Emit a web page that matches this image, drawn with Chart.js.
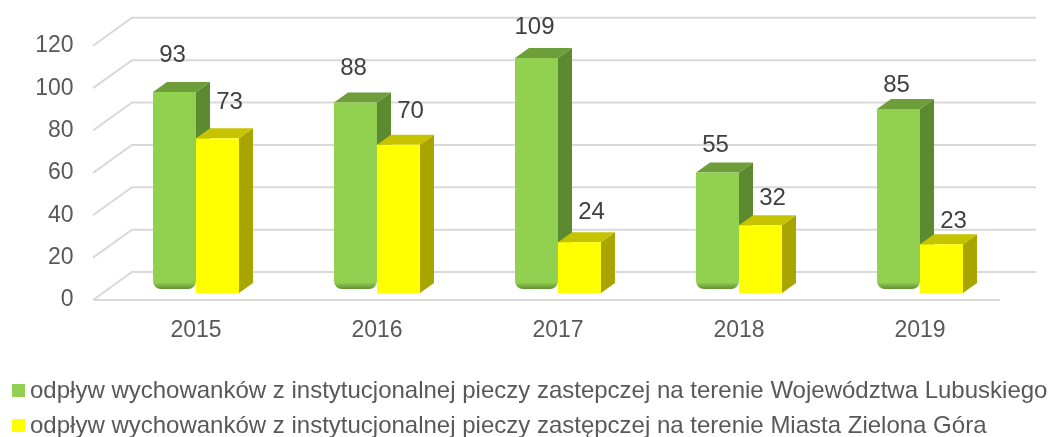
<!DOCTYPE html>
<html lang="pl">
<head>
  <meta charset="UTF-8" />
  <title>Odpływ wychowanków z instytucjonalnej pieczy zastępczej</title>
  <script src="https://cdn.jsdelivr.net/npm/chart.js@4.4.3/dist/chart.umd.min.js"></script>
  <style>
    body {
      margin: 0;
      background: #ffffff;
      font-family: "Liberation Sans", Arial, sans-serif;
    }
    .wrap {
      position: relative;
      width: 1048px;
      height: 437px;
    }
    .legend {
      position: absolute;
      left: 12px;
      top: 372px;
      color: #595959;
      font-size: 24px;
      line-height: 35px;
      white-space: nowrap;
    }
    .legend span.box {
      display: inline-block;
      width: 13px;
      height: 13px;
      margin-right: 5px;
      vertical-align: 1px;
    }
  </style>
</head>
<body>
  <div class="wrap">
    <canvas id="wykres" width="1048" height="437"></canvas>
    <div class="legend" id="legenda"></div>
  </div>

  <script>
    const lata = ['2015', '2016', '2017', '2018', '2019'];
    const lubuskie = [93, 88, 109, 55, 85];
    const zielonaGora = [73, 70, 24, 32, 23];
    const etykiety = [
      'odpływ wychowanków z instytucjonalnej pieczy zastepczej na terenie Województwa Lubuskiego',
      'odpływ wychowanków z instytucjonalnej pieczy zastępczej na terenie Miasta Zielona Góra'
    ];

    // kolory: przód, góra, bok
    const kolory = [
      { front: '#92D050', top: '#6E9E3A', side: '#5C8A30', dark: '#5E8F33', lift: 11 },
      { front: '#FFFF00', top: '#C6C300', side: '#A8A500', dark: null, lift: 7 }
    ];

    // siatka w stylu 3D (tylna ściana + podłoga)
    const siatka3d = {
      id: 'siatka3d',
      beforeDatasetsDraw(chart) {
        const { ctx, chartArea, scales } = chart;
        const y = scales.y;
        const x0 = chartArea.left - 12.5;
        const dx = 39, dy = -28;
        const xr = chartArea.right + 25.5;
        ctx.save();
        ctx.strokeStyle = '#D9D9D9';
        ctx.lineWidth = 2;
        y.ticks.forEach(t => {
          const yy = y.getPixelForValue(t.value);
          ctx.beginPath();
          ctx.moveTo(x0, yy);
          ctx.lineTo(x0 + dx, yy + dy);
          ctx.lineTo(xr, yy + dy);
          ctx.stroke();
        });
        // przednia krawędź podłogi
        const y0 = y.getPixelForValue(0);
        ctx.beginPath();
        ctx.moveTo(x0, y0);
        ctx.lineTo(chartArea.right - 10.5, y0);
        ctx.stroke();
        ctx.restore();

        // słupki 3D
        const ddx = 14, ddy = -10;
        const m0 = chart.getDatasetMeta(0);
        const m1 = chart.getDatasetMeta(1);
        for (let i = 0; i < lata.length; i++) {
          [m0, m1].forEach((meta, d) => {
            const el = meta.data[i];
            const k = kolory[d];
            const w = el.width;
            const l = el.x - w / 2, r = el.x + w / 2;
            const top = el.y - k.lift, bot = el.base - k.lift;
            ctx.save();
            // bok
            ctx.fillStyle = k.side;
            ctx.beginPath();
            ctx.moveTo(r, top);
            ctx.lineTo(r + ddx, top + ddy);
            ctx.lineTo(r + ddx, bot + ddy);
            ctx.lineTo(r, bot);
            ctx.closePath();
            ctx.fill();
            // góra
            ctx.fillStyle = k.top;
            ctx.beginPath();
            ctx.moveTo(l, top);
            ctx.lineTo(l + ddx, top + ddy);
            ctx.lineTo(r + ddx, top + ddy);
            ctx.lineTo(r, top);
            ctx.closePath();
            ctx.fill();
            // przód
            if (k.dark) {
              const g = ctx.createLinearGradient(0, bot - 12, 0, bot);
              g.addColorStop(0, k.front);
              g.addColorStop(0.45, k.front);
              g.addColorStop(1, k.dark);
              ctx.fillStyle = g;
              ctx.beginPath();
              ctx.roundRect(l, top, w, bot - top, [0, 0, 8, 8]);
              ctx.fill();
            } else {
              ctx.fillStyle = k.front;
              ctx.fillRect(l, top, w, bot - top);
            }
            ctx.restore();
          });
        }

        // etykiety wartości
        ctx.save();
        ctx.font = '24px "Liberation Sans", Arial, sans-serif';
        ctx.fillStyle = '#404040';
        ctx.textAlign = 'center';
        ctx.textBaseline = 'middle';
        const xa = m0.data[0].x, xb = m0.data[lata.length - 1].x;
        [m0, m1].forEach((meta, d) => {
          const vals = d === 0 ? lubuskie : zielonaGora;
          meta.data.forEach((el, i) => {
            const off = 37 - (el.x - xa) / (xb - xa) * 13;
            const xx = el.x + (d === 1 ? 12 : -2);
            ctx.fillText(String(vals[i]), xx, el.y - kolory[d].lift - off);
          });
        });
        ctx.restore();
        return false;
      }
    };

    new Chart(document.getElementById('wykres'), {
      type: 'bar',
      data: {
        labels: lata,
        datasets: [
          { label: etykiety[0], data: lubuskie, backgroundColor: kolory[0].front },
          { label: etykiety[1], data: zielonaGora, backgroundColor: kolory[1].front }
        ]
      },
      options: {
        responsive: false,
        animation: false,
        layout: { padding: { top: 42, right: 37.5, left: 0, bottom: 0 } },
        datasets: {
          bar: { categoryPercentage: 0.475, barPercentage: 1 }
        },
        scales: {
          x: {
            grid: { display: false, drawTicks: false },
            border: { display: false },
            ticks: {
              color: '#595959',
              padding: 17,
              font: { size: 23, family: '"Liberation Sans", Arial, sans-serif' }
            },
            afterFit(s) { s.height = 137; }
          },
          y: {
            min: 0,
            max: 120,
            grid: { display: false, drawTicks: false },
            border: { display: false },
            ticks: {
              stepSize: 20,
              color: '#595959',
              padding: 32,
              font: { size: 23, family: '"Liberation Sans", Arial, sans-serif' }
            },
            afterFit(s) { s.width = 105.5; }
          }
        },
        plugins: {
          legend: { display: false },
          tooltip: { enabled: false }
        }
      },
      plugins: [siatka3d]
    });

    // legenda HTML
    const leg = document.getElementById('legenda');
    etykiety.forEach((t, i) => {
      const row = document.createElement('div');
      const b = document.createElement('span');
      b.className = 'box';
      b.style.background = kolory[i].front;
      row.appendChild(b);
      row.appendChild(document.createTextNode(t));
      leg.appendChild(row);
    });
  </script>
</body>
</html>
